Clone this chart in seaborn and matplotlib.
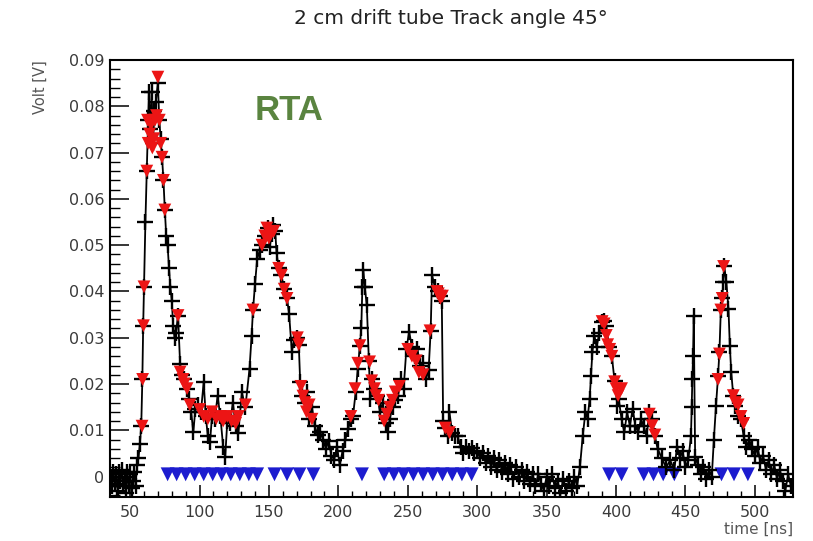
import matplotlib
matplotlib.use("Agg")
import matplotlib.pyplot as plt
import seaborn as sns
import pandas as pd
from matplotlib.ticker import MultipleLocator, FuncFormatter
from matplotlib import font_manager

# ---------------- data ----------------
black_t = [36, 37, 38, 39, 40, 41, 42, 43, 44, 45, 46, 47, 48, 49, 50, 51, 52, 53, 54, 55, 56, 57,
           58, 58.8, 59.4, 60, 61, 62, 63, 63.5, 64.5, 65.5, 66.5, 67.5, 68.5, 70, 71, 72, 73, 74, 75,
           76, 77, 78, 79, 80, 81, 82, 83, 84.5, 86, 87.5, 89, 91, 92.5, 94, 95.5, 97, 99, 101, 103,
           104.5, 106, 107.5, 109, 111, 113, 115, 117, 118.5, 120, 122, 124, 126, 128, 130.5, 133,
           136, 137.5, 138.5, 140, 141.5, 143.5, 145, 147, 149, 150.5, 152, 153, 154.5, 155.5, 157,
           159, 161, 163, 164.5, 166.5, 168, 170, 171.5, 172.5, 174, 176, 177.5, 179, 181, 183, 185,
           187, 189, 191, 193, 195, 197, 199, 201, 203, 205, 207, 209, 210.5, 212.5, 214, 215.5,
           216.5, 217.3, 218, 219, 220.5, 222, 223, 224.5, 226, 228, 230, 232, 234, 235.5, 237, 239,
           241, 243, 245, 247, 249, 251, 253, 255, 257, 259, 261, 263, 265, 266.5, 267.5, 269.5,
           271.5, 273, 274.5, 275.5, 277, 279, 280, 282, 284, 286, 288, 290, 292, 294, 296, 298,
           300, 302, 304, 306, 308, 310, 312, 314, 316, 318, 320, 322, 324, 326, 328, 330, 332, 334,
           336, 338, 340, 342, 344, 346, 348, 350, 352, 354, 356, 358, 360, 362, 364, 366, 368, 370,
           372, 374, 376, 378, 379.5, 381, 382, 383, 384.5, 386, 388, 390, 391.5, 393, 395, 397, 399,
           401, 402, 404, 406, 408, 410, 412, 414, 416, 418, 420, 422, 424, 426, 428, 430, 433, 436,
           439, 442, 444, 446, 448, 450, 452, 454, 454.5, 455, 455.5, 456, 457, 459, 461, 463, 465,
           467, 469, 470.5, 472, 473.5, 474.5, 475.5, 476.5, 477.3, 478, 479.5, 481, 482, 483, 484.5,
           486, 488, 490, 492, 494, 496, 498, 500, 502, 504, 506, 508, 510, 512, 514, 516, 518, 520,
           522, 524, 526]
black_v = [0.000, -0.002, 0.001, -0.0015, 0.0005, -0.003, 0.001, -0.001, 0.0015, -0.002, 0.000, -0.0035,
           0.001, -0.002, 0.0005, -0.0025, -0.001, 0.001, -0.002, 0.0026, 0.004, 0.007,
           0.0109, 0.021, 0.0326, 0.041, 0.055, 0.066, 0.077, 0.083, 0.075, 0.083, 0.072, 0.079, 0.081,
           0.085, 0.077, 0.073, 0.069, 0.064, 0.0576,
           0.052, 0.050, 0.045, 0.041, 0.038, 0.0326, 0.030, 0.031, 0.0348, 0.0243, 0.022, 0.021, 0.019,
           0.0167, 0.0139, 0.0096, 0.0146, 0.0155, 0.014, 0.0204,
           0.013, 0.0087, 0.0074, 0.013, 0.0125, 0.0174, 0.013, 0.0065, 0.0043, 0.012, 0.0115, 0.016,
           0.011, 0.0095, 0.0182, 0.015,
           0.0233, 0.0304, 0.036, 0.0417, 0.047, 0.049, 0.050, 0.052, 0.0537, 0.0495, 0.0525, 0.0543,
           0.053, 0.0483, 0.045,
           0.0435, 0.0405, 0.0385, 0.0352, 0.027, 0.0295, 0.030, 0.0285, 0.0204, 0.0174, 0.016, 0.0183,
           0.0125, 0.015, 0.0109, 0.009,
           0.0096, 0.008, 0.006, 0.0078, 0.0045, 0.0037, 0.0065, 0.0025, 0.0055, 0.008, 0.0102, 0.0125,
           0.013, 0.0183, 0.0233, 0.0283,
           0.032, 0.041, 0.0446, 0.041, 0.037, 0.025, 0.0167, 0.021, 0.019, 0.0175, 0.0139, 0.016,
           0.0115, 0.0096, 0.0125, 0.015,
           0.0165, 0.0175, 0.021, 0.019, 0.0276, 0.0313, 0.028, 0.026, 0.0275, 0.024, 0.0245, 0.021,
           0.023, 0.0315, 0.0435, 0.041,
           0.040, 0.039, 0.038, 0.012, 0.0105, 0.0087, 0.0139, 0.0095, 0.0087, 0.0087, 0.0065, 0.0052,
           0.0065, 0.0055, 0.0062, 0.005,
           0.0055, 0.004, 0.0052, 0.003, 0.0045, 0.002, 0.004, 0.0015, 0.0035, 0.001, 0.003, 0.0005,
           0.0025, -0.0005, 0.002, 0.000, 0.0015, -0.001,
           0.001, -0.0015, 0.0005, -0.002, 0.0005, -0.0015, -0.003, 0.000, -0.002, 0.0005, -0.0025,
           -0.001, -0.0035, -0.0005, -0.003, -0.001, -0.0025, 0.000,
           -0.002, 0.002, 0.0087, 0.014, 0.0125, 0.0167, 0.0217, 0.027, 0.0304, 0.028, 0.031, 0.0335,
           0.0337, 0.0326, 0.028, 0.026, 0.0207,
           0.0152, 0.0167, 0.0124, 0.0096, 0.0139, 0.011, 0.0146, 0.0109, 0.0096, 0.0124, 0.0109,
           0.0087, 0.014, 0.0124, 0.0087, 0.006, 0.004, 0.002,
           0.0035, 0.0015, 0.0065, 0.004, 0.0055, 0.002, 0.0035, 0.0087, 0.015, 0.021, 0.026, 0.0348,
           0.0043, 0.0025, 0.0005, 0.002, -0.0005,
           0.0015, 0.000, 0.008, 0.0152, 0.0217, 0.027, 0.0359, 0.0385, 0.042, 0.0454, 0.042, 0.0363,
           0.0283, 0.0226, 0.0174,
           0.0152, 0.013, 0.0124, 0.0087, 0.0065, 0.008, 0.006, 0.0045, 0.0065, 0.003, 0.0045, 0.0015,
           0.0035, 0.0005, 0.0025, -0.0005, 0.0015, -0.001,
           -0.003, 0.0005, -0.002]

red_t = [58.6, 59, 59.6, 60, 62, 62.5, 63, 64, 65, 66, 67, 68, 69, 70, 71, 72, 73, 74, 75,
         84.5, 86, 88, 89, 91, 93, 100, 103, 106, 109, 112, 115, 117, 120, 123, 126, 128, 133, 138.5,
         145, 147, 148.5, 150, 151.5, 153.5, 157, 159, 161, 163, 170.5, 171.5, 173, 174.5, 176, 177,
         179, 181, 209, 212, 214, 215.5, 222.5, 224, 226, 227, 229, 233, 235, 237, 239, 241, 244,
         250, 253, 256, 258, 261, 266, 271, 272, 273.5, 275, 277, 280,
         390, 391.5, 393, 394, 395.5, 397, 399, 400, 401.5, 404, 424, 426, 428,
         473.5, 474.5, 475.5, 476.5, 477.5, 484.5, 486, 488, 490, 492]
red_v = [0.0109, 0.021, 0.0326, 0.041, 0.066, 0.077, 0.072, 0.074, 0.076, 0.071, 0.073, 0.077,
         0.078, 0.0863, 0.077, 0.072, 0.069, 0.064, 0.0576,
         0.0348, 0.0226, 0.021, 0.020, 0.019, 0.0155, 0.0145, 0.013, 0.0125, 0.014, 0.0125, 0.013,
         0.012, 0.013, 0.012, 0.0115, 0.013, 0.0155, 0.036,
         0.050, 0.052, 0.0537, 0.0515, 0.0525, 0.053, 0.045, 0.0435, 0.0405, 0.0385, 0.030, 0.0285,
         0.0195, 0.0174, 0.016, 0.014,
         0.0155, 0.0124, 0.013, 0.019, 0.0245, 0.0283, 0.0248, 0.0207, 0.019, 0.0175, 0.0165, 0.012,
         0.0135, 0.015, 0.0165, 0.0183, 0.0195,
         0.0275, 0.026, 0.025, 0.0225, 0.022, 0.0315, 0.040, 0.0395, 0.0385, 0.039, 0.0105, 0.0095,
         0.0335, 0.033, 0.0305, 0.0285, 0.0275, 0.026, 0.0205, 0.019, 0.0175, 0.019, 0.0135, 0.011, 0.009,
         0.021, 0.0265, 0.036, 0.0385, 0.0454, 0.0175, 0.016, 0.0155, 0.013, 0.0115]

blue_t = [77, 83.5, 90, 96.5, 103, 109.5, 116, 122.5, 129, 135.5, 141.5,
          154, 163, 172, 182, 217,
          233, 240, 247, 254, 261, 268, 275, 282, 289, 296,
          395, 404, 420, 427, 434, 442, 476, 485, 495]
blue_v = [0.0005] * len(blue_t)

title_text = "2 cm drift tube Track angle 45\u00b0"
ylabel_text = "Volt [V]"
xlabel_text = "time [ns]"
annot_text = "RTA"
x_ticks = [50, 100, 150, 200, 250, 300, 350, 400, 450, 500]

# ---------------- style ----------------
sns.set_theme(style="white")
plt.rcParams["font.family"] = ["DejaVu Sans"]

fig = plt.figure(figsize=(8.13, 5.41), dpi=100)
fig.patch.set_facecolor("white")
L, R, T, B = 110, 793, 60, 497
ax = fig.add_axes([L / 813, 1 - B / 541, (R - L) / 813, (B - T) / 541])
ax.set_facecolor("white")

df_black = pd.DataFrame({"t": black_t, "v": black_v})
df_red = pd.DataFrame({"t": red_t, "v": red_v})
df_blue = pd.DataFrame({"t": blue_t, "v": blue_v})

sns.scatterplot(data=df_blue, x="t", y="v", ax=ax, marker="v", s=100,
                color="#1c1ccf", edgecolor="none", zorder=2, legend=False)
sns.lineplot(data=df_black, x="t", y="v", ax=ax, sort=False, estimator=None,
             color="black", linewidth=1.3, marker="+", markersize=11,
             markeredgewidth=1.7, markeredgecolor="black", zorder=3, legend=False)
sns.scatterplot(data=df_red, x="t", y="v", ax=ax, marker="v", s=85,
                color="#ec1515", edgecolor="none", zorder=4, legend=False)

ax.set_xlim(35.5, 527.5)
ax.set_ylim(-0.0044, 0.09)
ax.set_xlabel("")
ax.set_ylabel("")

ax.xaxis.set_major_locator(MultipleLocator(50))
ax.xaxis.set_minor_locator(MultipleLocator(10))
ax.set_xticks(x_ticks)
ax.yaxis.set_major_locator(MultipleLocator(0.01))
ax.yaxis.set_minor_locator(MultipleLocator(0.002))
ax.yaxis.set_major_formatter(FuncFormatter(lambda v, p: "0" if abs(v) < 1e-9 else f"{v:.2f}"))

ax.tick_params(axis="y", which="major", direction="in", length=14, width=1.1,
               color="black", labelsize=11.5, labelcolor="#3a3a3a", pad=4, left=True, right=False)
ax.tick_params(axis="y", which="minor", direction="in", length=7, width=1.0,
               color="black", left=True, right=False)
ax.tick_params(axis="x", which="major", direction="in", length=9, width=1.1,
               color="black", labelsize=11.5, labelcolor="#3a3a3a", pad=6, bottom=True, top=False)
ax.tick_params(axis="x", which="minor", direction="in", length=4.5, width=1.0,
               color="black", bottom=True, top=False)

for s in ax.spines.values():
    s.set_visible(True)
    s.set_color("black")
    s.set_linewidth(1.5)

fig.text(451 / 813, 1 - 24 / 541, title_text, ha="center", va="baseline",
         fontsize=14.5, color="#222222")
fig.text(40 / 813, 1 - 60 / 541, ylabel_text, rotation=90, ha="center", va="top",
         fontsize=10.5, color="#555555")
fig.text(793 / 813, 1 - 534 / 541, xlabel_text, ha="right", va="baseline",
         fontsize=11, color="#555555")

names = {f.name for f in font_manager.fontManager.ttflist}
rta_family = "Liberation Sans Narrow" if "Liberation Sans Narrow" in names else "Liberation Sans"
fig.text(289 / 813, 1 - 110 / 541, annot_text, ha="center", va="center",
         fontsize=29 if rta_family.endswith("Narrow") else 25, fontweight="bold",
         family=rta_family, color="#5a8440")

fig.savefig("out.png", dpi=100, facecolor="white")
